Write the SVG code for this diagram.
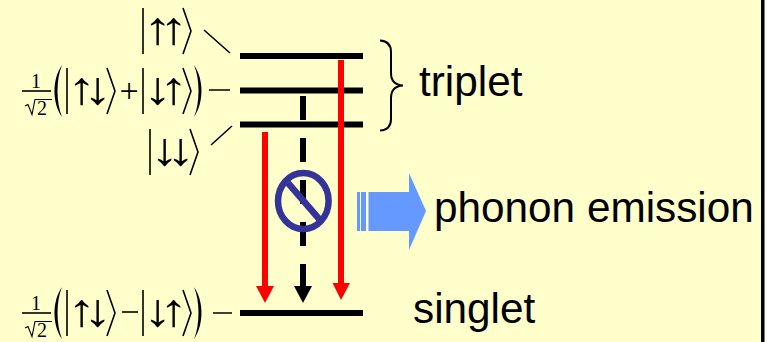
<svg xmlns="http://www.w3.org/2000/svg" width="767" height="342" viewBox="0 0 767 342">
<style>
.lab{font-family:"Liberation Sans",Arial,sans-serif;font-size:42.300px;fill:#000}
.ar{font-family:"Liberation Serif","DejaVu Serif",serif;font-size:46px;fill:#000;letter-spacing:-10.200px}
.m{font-family:"Liberation Serif","Times New Roman",serif;fill:#000;text-anchor:middle}
.k{fill:none;stroke:#000;stroke-width:1.6}
.s{fill:none;stroke:#000;stroke-width:1.100}
.p{fill:#000}
.level{stroke:#000;stroke-width:6;fill:none}
.red{stroke:#f00;stroke-width:6;fill:none}
</style>
<defs>
<path id="sq" class="s" d="M25 15l3-1.500l4 10l3-15h17"/>
<path id="bra" class="k" d="M0-23L8 0L0 23"/>
<path id="bar" class="k" d="M0-23V23"/>
<path id="pl" class="p" d="M8-26C-2-12-2 12 8 26C2 12 2-12 8-26Z"/>
<path id="pr" class="p" d="M0-26C10-12 10 12 0 26C6 12 6-12 0-26Z"/>
</defs>
<rect width="767" height="342" fill="#ffffcc"/>
<rect x="761" y="0" width="3.500" height="342" fill="#000"/>
<rect x="765" y="0" width="2" height="342" fill="#fff"/>

<g id="connectors">
<path class="k" d="M204 30L230 53M209 90H230M211 145L232 126M213 313H232"/>
<path d="M303 96V120M303 138V162M303 180V204M303 222V246M303 264V288" stroke="#000" stroke-width="6" fill="none"/>
<path d="M294 286H312L303 303Z" fill="#000"/>
<path class="red" d="M265 132V288"/>
<path d="M256 286H274L265 303Z" fill="#f00"/>
</g>

<g id="level-triplet-up"><path class="level" d="M240 56H363"/></g>
<g id="level-triplet-zero"><path class="level" d="M240 90.500H363"/></g>
<g id="level-triplet-down"><path class="level" d="M240 124.500H363"/></g>
<g id="level-singlet"><path class="level" d="M240 313H363"/></g>

<g id="connector-red-right">
<path class="red" d="M341 60V285"/>
<path d="M332.500 283H350L341 300Z" fill="#f00"/>
</g>

<g id="forbidden">
<ellipse cx="303.300" cy="201" rx="25.300" ry="28" fill="none" stroke="#333399" stroke-width="6.500"/>
<path d="M288 183L320 220" stroke="#333399" stroke-width="6.500" fill="none"/>
</g>

<g id="phonon-arrow" fill="#6699ff">
<rect x="357" y="192" width="3" height="39"/>
<rect x="361" y="192" width="5" height="39"/>
<path d="M368.500 192H409V173L426 211L409 250V231H368.500Z"/>
</g>

<g id="brace"><path d="M380 40.500C388 41 391 45 391 52V73C391 81 395 85 403 85.500C395 86 391 90 391 98V119C391 126 388 130 380 130.500" fill="none" stroke="#000" stroke-width="2"/></g>

<g id="label-triplet"><text class="lab" x="419" y="96">triplet</text></g>
<g id="label-phonon"><text class="lab" x="434" y="222">phonon emission</text></g>
<g id="label-singlet"><text class="lab" x="413" y="323">singlet</text></g>

<g id="ket-up-up">
<use href="#bar" x="143" y="31"/>
<text class="ar" transform="translate(143 44) scale(1.25 1)">↑↑</text>
<use href="#bra" x="183" y="31"/>
</g>
<g id="ket-triplet-zero">
<text class="m" x="36" y="88" font-size="20">1</text>
<path class="k" d="M22 91H51"/>
<text class="m" x="42" y="115" font-size="20">2</text>
<use href="#sq" y="91"/>
<use href="#pl" x="54" y="91"/>
<use href="#bar" x="67" y="91"/>
<text class="ar" transform="translate(67 104) scale(1.25 1)">↑↓</text>
<use href="#bra" x="107" y="91"/>
<text class="m" x="129" y="102" font-size="34">+</text>
<use href="#bar" x="143" y="91"/>
<text class="ar" transform="translate(143 104) scale(1.25 1)">↓↑</text>
<use href="#bra" x="183" y="91"/>
<use href="#pr" x="194" y="91"/>
</g>
<g id="ket-down-down">
<use href="#bar" x="150" y="152"/>
<text class="ar" transform="translate(150 165) scale(1.25 1)">↓↓</text>
<use href="#bra" x="190" y="152"/>
</g>
<g id="ket-singlet">
<text class="m" x="36" y="310" font-size="20">1</text>
<path class="k" d="M22 313H51"/>
<text class="m" x="42" y="337" font-size="20">2</text>
<use href="#sq" y="313"/>
<use href="#pl" x="54" y="313"/>
<use href="#bar" x="67" y="313"/>
<text class="ar" transform="translate(67 326) scale(1.25 1)">↑↓</text>
<use href="#bra" x="107" y="313"/>
<path class="k" d="M122 312H138"/>
<use href="#bar" x="143" y="313"/>
<text class="ar" transform="translate(143 326) scale(1.25 1)">↓↑</text>
<use href="#bra" x="183" y="313"/>
<use href="#pr" x="194" y="313"/>
</g>
</svg>
